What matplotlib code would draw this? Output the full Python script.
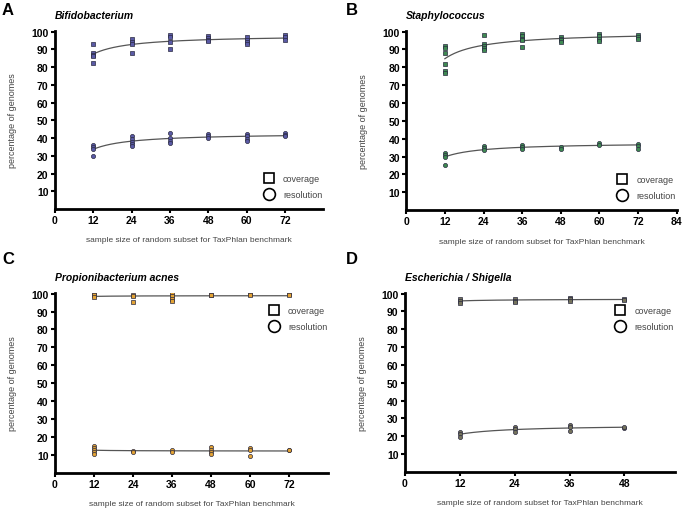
import numpy as np
import matplotlib.pyplot as plt
from matplotlib.lines import Line2D

plt.rcParams['font.family'] = ['Liberation Sans', 'DejaVu Sans']

sizes = [12, 24, 36, 48, 60, 72]

# panel A - Bifidobacterium
a_cov = [[93, 88, 87, 86, 82], [96, 94, 93, 88], [98, 97, 94, 90],
         [97.5, 96.5, 95.5, 94.5], [97, 95.5, 94, 93], [98, 97, 95]]
a_res = [[36, 35, 34, 30], [41, 39.5, 38, 36.5, 35.5], [43, 40, 38.5, 37],
         [42.5, 41, 40], [42.5, 41, 39.5, 38.5], [43, 42, 41]]

# panel B - Staphylococcus
b_cov = [[92, 90.5, 88, 82, 78, 77], [98, 93, 92, 90.5, 89.6], [98.5, 97.5, 96, 95, 91.5],
         [97, 96, 95, 94], [98.5, 97.5, 96, 94.5], [98, 97, 96]]
b_res = [[32, 31, 29.5, 25.5], [36, 35, 33.5], [36.5, 35.5, 34],
         [35.5, 34.5], [37.5, 36.5], [37, 36, 34.5]]

# panel C - Propionibacterium acnes
c_cov = [[100, 99, 98], [99.5, 98.5, 95.5], [100, 98.5, 97, 96],
         [99.5, 99], [100, 99.5], [100, 99.5]]
c_res = [[15, 14, 12.5, 11.5, 10.5], [12, 11.5], [12.5, 11.5],
         [14.5, 13, 11.5, 10.5], [14, 12.5, 9.5], [13, 12.5]]

# panel D - Escherichia / Shigella
d_cov = [[97, 96, 95], [97, 96, 95.5], [97.5, 97, 96], [97, 96.5]]
d_res = [[22.5, 21, 19.5], [25, 24, 22.5], [26, 25, 23], [24.5, 25]]

panels = [
    ('A', 'Bifidobacterium', sizes, a_cov, a_res, '#5a5aa6', [0, 12, 24, 36, 48, 60, 72], 84, 'lower'),
    ('B', 'Staphylococcus', sizes, b_cov, b_res, '#3f8a52', [0, 12, 24, 36, 48, 60, 72, 84], 84, 'lower'),
    ('C', 'Propionibacterium acnes', sizes, c_cov, c_res, '#e3a334', [0, 12, 24, 36, 48, 60, 72], 84, 'upper'),
    ('D', 'Escherichia / Shigella', sizes[:4], d_cov, d_res, '#75735c', [0, 12, 24, 36, 48], 59, 'upper'),
]

rects = [
    [0.080, 0.588, 0.392, 0.350],
    [0.593, 0.586, 0.395, 0.352],
    [0.080, 0.071, 0.399, 0.353],
    [0.591, 0.073, 0.394, 0.351],
]
letter_pos = [(0.003, 0.995), (0.505, 0.995), (0.003, 0.505), (0.505, 0.505)]

fig = plt.figure(figsize=(6.85, 5.1), dpi=100)

for (letter, title, xs, cov, res, col, xt, xmax, lpos), r, lp in zip(panels, rects, letter_pos):
    ax = fig.add_axes(r)
    for vals, mk in ((cov, 's'), (res, 'o')):
        px = np.concatenate([[x] * len(v) for x, v in zip(xs, vals)])
        py = np.concatenate(vals)
        ax.plot(px, py, linestyle='none', marker=mk, markersize=3.0,
                mfc=col, mec='#2a2a40', mew=0.5, zorder=3)
        # hyperbolic fit y = a + b/x
        b, a = np.polyfit(1.0 / px, py, 1)
        xx = np.linspace(xs[0], xs[-1], 200)
        ax.plot(xx, a + b / xx, color='#555555', lw=0.9, zorder=2)

    ax.set_xlim(0, xmax)
    ax.set_ylim(0, 100.5)
    ax.set_xticks(xt)
    ax.set_yticks(range(10, 101, 10))
    for s in ('top', 'right'):
        ax.spines[s].set_visible(False)
    for s in ('left', 'bottom'):
        ax.spines[s].set_linewidth(2)
    ax.tick_params(axis='both', width=1.5, length=3, labelsize=7.5, pad=1.5)
    for t in ax.get_xticklabels() + ax.get_yticklabels():
        t.set_fontweight('bold')

    ax.set_xlabel('sample size of random subset for TaxPhlan benchmark',
                  fontsize=6, color='#444444', labelpad=8)
    ax.set_ylabel('percentage of genomes', fontsize=6.5, color='#444444')
    ax.yaxis.set_label_coords(-0.14, 0.5)
    ax.text(0.0, 1.06, title, transform=ax.transAxes, fontsize=7.5,
            fontweight='bold', fontstyle='italic', va='bottom', ha='left')
    fig.text(lp[0], lp[1], letter, fontsize=12, fontweight='bold', va='top', ha='left')

    handles = [Line2D([], [], linestyle='none', marker='s', markersize=7.5,
                      mfc='white', mec='black', mew=1.2, label='coverage'),
               Line2D([], [], linestyle='none', marker='o', markersize=8.5,
                      mfc='white', mec='black', mew=1.2, label='resolution')]
    anchor = (1.02, 0.02) if lpos == 'lower' else (1.02, 0.96)
    loc = 'lower right' if lpos == 'lower' else 'upper right'
    leg = ax.legend(handles=handles, loc=loc, bbox_to_anchor=anchor, frameon=False,
                    fontsize=6.5, handletextpad=0.6, labelspacing=0.75, borderpad=0.2)
    for t in leg.get_texts():
        t.set_color('#444444')

fig.savefig('out.png', dpi=100)
